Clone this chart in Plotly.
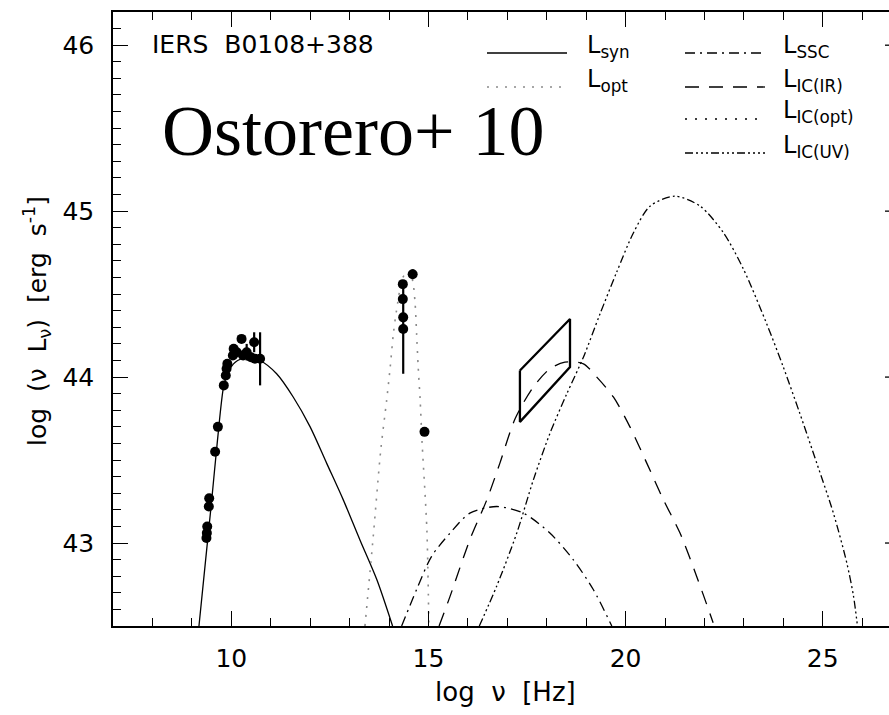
import plotly.graph_objects as go

# ---- model components: log nu [Hz] vs log(nu L_nu) [erg s^-1] ----
syn_x = [9.18, 9.35, 9.50, 9.65, 9.81, 9.92, 10.10, 10.40, 10.73, 11.15, 11.57, 12.00, 12.42, 12.84, 13.26, 13.69, 14.09]
syn_y = [42.50, 42.90, 43.25, 43.62, 43.95, 44.03, 44.09, 44.12, 44.10, 44.02, 43.88, 43.70, 43.48, 43.26, 43.02, 42.78, 42.50]

opt_x = [13.39, 13.60, 13.79, 13.94, 14.03, 14.11, 14.19, 14.35, 14.50, 14.60, 14.66, 14.70, 14.74, 14.79, 14.84, 14.96, 15.01]
opt_y = [42.50, 43.04, 43.56, 43.86, 44.06, 44.26, 44.40, 44.60, 44.64, 44.58, 44.45, 44.26, 44.06, 43.86, 43.60, 43.08, 42.50]

ssc_x = [14.32, 14.70, 15.08, 15.55, 16.05, 16.73, 17.41, 18.08, 18.67, 19.18, 19.65]
ssc_y = [42.50, 42.72, 42.92, 43.06, 43.18, 43.22, 43.18, 43.06, 42.90, 42.72, 42.50]

icir_x = [15.27, 15.55, 16.05, 16.48, 16.81, 17.20, 17.66, 18.08, 18.46, 18.93, 19.27, 19.69, 20.11, 20.54, 20.96, 21.38, 21.80, 22.22]
icir_y = [42.50, 42.68, 43.02, 43.26, 43.48, 43.75, 43.94, 44.05, 44.09, 44.08, 44.00, 43.88, 43.70, 43.48, 43.26, 43.06, 42.80, 42.52]

icuv_x = [16.29, 16.73, 17.24, 17.66, 18.08, 18.51, 18.93, 19.35, 19.77, 20.20, 20.62, 21.25, 21.89, 22.48, 22.99, 23.58, 24.00, 24.42, 24.85, 25.27, 25.61, 25.78, 25.88]
icuv_y = [42.50, 42.74, 43.06, 43.38, 43.66, 43.90, 44.12, 44.38, 44.63, 44.87, 45.03, 45.09, 45.03, 44.87, 44.65, 44.32, 44.06, 43.78, 43.48, 43.18, 42.88, 42.68, 42.50]

# ---- observed photometry ----
radio_x = [9.37, 9.38, 9.39, 9.43, 9.44, 9.59, 9.66, 9.81, 9.86, 9.88, 9.90, 10.04, 10.06, 10.14, 10.26, 10.30, 10.39, 10.50, 10.58, 10.60, 10.73]
radio_y = [43.03, 43.06, 43.10, 43.22, 43.27, 43.55, 43.70, 43.95, 44.01, 44.05, 44.08, 44.13, 44.17, 44.15, 44.23, 44.13, 44.15, 44.12, 44.21, 44.11, 44.11]
radio_err = [0, 0, 0, 0, 0, 0, 0, 0, 0, 0, 0, 0, 0, 0, 0, 0, 0.05, 0, 0.06, 0, 0.16]

optical_x = [14.35, 14.35, 14.36, 14.36, 14.60, 14.90]
optical_y = [44.56, 44.47, 44.36, 44.29, 44.62, 43.67]
optical_err = [0, 0, 0, 0.27, 0.03, 0]

# X-ray spectrum box (log nu, log nuLnu) corners
xray_x = [17.32, 18.59, 18.59, 17.32, 17.32]
xray_y = [44.04, 44.35, 44.06, 43.73, 44.04]

# ---- axis settings ----
x_range = [7, 26.68]
y_range = [42.5, 46.2]
y_major = [43, 44, 45, 46]

W, H = 889, 715
ML, MR, MT, MB = 113, 0, 12, 89
PW, PH = W - ML - MR, H - MT - MB

FONT = "DejaVu Sans"
SP = "\u00a0 "  # wide word gap

SSC_DASH = "10px,5px,2px,5px"
IR_DASH = "14px,10px"
UV_DASH = "8px,3px,2px,3px,2px,3px,2px,3px"
OPT_DOT = "2px,7px"
ICOPT_DOT = "2px,8px"

fig = go.Figure()

def curve(x, y, dash, color="black", width=1.3):
    fig.add_trace(go.Scatter(x=x, y=y, mode="lines",
                             line=dict(color=color, width=width, dash=dash, shape="spline", smoothing=0.8),
                             showlegend=False, hoverinfo="skip"))

curve(syn_x, syn_y, "solid")
curve(opt_x, opt_y, OPT_DOT, color="#8a8a8a", width=1.6)
curve(ssc_x, ssc_y, SSC_DASH)
curve(icir_x, icir_y, IR_DASH)
curve(icuv_x, icuv_y, UV_DASH)

fig.add_trace(go.Scatter(x=xray_x, y=xray_y, mode="lines",
                         line=dict(color="black", width=2.3),
                         showlegend=False, hoverinfo="skip"))

for px, py, pe in [(radio_x, radio_y, radio_err), (optical_x, optical_y, optical_err)]:
    fig.add_trace(go.Scatter(x=px, y=py, mode="markers",
                             marker=dict(color="black", size=10),
                             error_y=dict(type="data", array=pe, color="black", thickness=2.2, width=0),
                             showlegend=False, hoverinfo="skip"))

# ---- legend drawn as line samples + labels ----
def px_to_paper_x(p):
    return (p - ML) / PW

def px_to_paper_y(p):
    return (H - MB - p) / PH

legend_rows = [
    # (line x0, line x1, text x, line y, text y, dash, color, label)
    (487, 567, 585, 53, 46, "solid", "black", "L<sub>syn</sub>"),
    (487, 567, 585, 87, 80, OPT_DOT, "#8a8a8a", "L<sub>opt</sub>"),
    (685, 765, 781, 53, 46, SSC_DASH, "black", "L<sub>SSC</sub>"),
    (685, 765, 781, 87, 80, IR_DASH, "black", "L<sub>IC(IR)</sub>"),
    (685, 765, 781, 119, 112, ICOPT_DOT, "black", "L<sub>IC(opt)</sub>"),
    (685, 765, 781, 153, 146, UV_DASH, "black", "L<sub>IC(UV)</sub>"),
]

shapes = []
annotations = []
for x0, x1, tx, ly, ty, dash, col, lab in legend_rows:
    shapes.append(dict(type="line", xref="paper", yref="paper",
                       x0=px_to_paper_x(x0), x1=px_to_paper_x(x1),
                       y0=px_to_paper_y(ly), y1=px_to_paper_y(ly),
                       line=dict(color=col, width=1.3, dash=dash)))
    annotations.append(dict(xref="paper", yref="paper", x=px_to_paper_x(tx), y=px_to_paper_y(ty),
                            xanchor="left", yanchor="middle", showarrow=False, text=lab,
                            font=dict(family=FONT, size=24, color="black")))

# short inward major ticks on the right-hand frame edge
for yv in y_major:
    shapes.append(dict(type="line", xref="paper", yref="y",
                       x0=px_to_paper_x(W - 4), x1=1, y0=yv, y1=yv,
                       line=dict(color="black", width=1.3)))

annotations += [
    dict(xref="paper", yref="paper", x=px_to_paper_x(150), y=px_to_paper_y(44),
         xanchor="left", yanchor="middle", showarrow=False, text="IERS" + SP + "B0108+388",
         font=dict(family=FONT, size=25, color="black")),
    dict(xref="paper", yref="paper", x=px_to_paper_x(160), y=px_to_paper_y(131),
         xanchor="left", yanchor="middle", showarrow=False, text="Ostorero+ 10",
         font=dict(family="Liberation Serif", size=72, color="black")),
    dict(xref="paper", yref="paper", x=px_to_paper_x(505), y=px_to_paper_y(692),
         xanchor="center", yanchor="middle", showarrow=False, text="log" + SP + "ν" + SP + "[Hz]",
         font=dict(family=FONT, size=26, color="black")),
    dict(xref="paper", yref="paper", x=px_to_paper_x(37), y=px_to_paper_y(321),
         xanchor="center", yanchor="middle", showarrow=False, textangle=-90,
         text="log" + SP + "(ν" + SP + "L<sub>ν</sub>)" + SP + "[erg" + SP + "s<sup>-1</sup>]",
         font=dict(family=FONT, size=25, color="black")),
]

fig.update_layout(
    width=W, height=H,
    margin=dict(l=ML, r=MR, t=MT, b=MB, pad=0),
    paper_bgcolor="white", plot_bgcolor="white",
    shapes=shapes, annotations=annotations,
    showlegend=False,
)

fig.update_xaxes(range=x_range, tick0=0, dtick=5, ticks="inside", ticklen=15, tickwidth=1.3,
                 tickcolor="black", showline=True, linecolor="black", linewidth=1.6, mirror="ticks",
                 showgrid=False, zeroline=False,
                 tickfont=dict(family=FONT, size=25, color="black"), ticklabelstandoff=9,
                 minor=dict(dtick=1, tick0=0, ticks="inside", ticklen=8, tickwidth=1.3, tickcolor="black", showgrid=False))

fig.update_yaxes(range=y_range, tick0=0, dtick=1, ticks="inside", ticklen=15, tickwidth=1.3,
                 tickcolor="black", showline=True, linecolor="black", linewidth=1.6, mirror=False,
                 showgrid=False, zeroline=False,
                 tickfont=dict(family=FONT, size=25, color="black"), ticklabelstandoff=12,
                 minor=dict(dtick=0.1, tick0=0, ticks="inside", ticklen=8, tickwidth=1.3, tickcolor="black", showgrid=False))

fig.write_html("out.html")
